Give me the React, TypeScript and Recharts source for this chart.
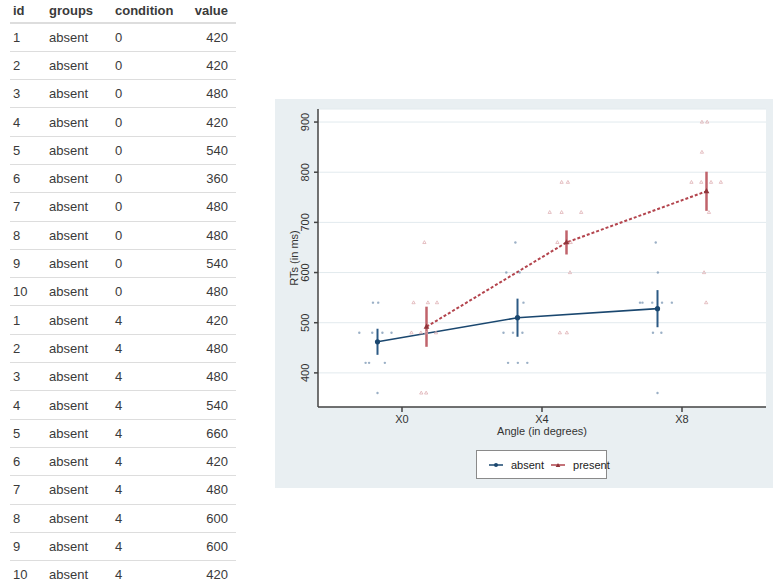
import {
  ComposedChart,
  Scatter,
  Line,
  XAxis,
  YAxis,
  CartesianGrid,
  ErrorBar,
  Legend,
  Label,
} from "recharts";

// table rows (first 20 rows of the long data set)
const tableIds = [1, 2, 3, 4, 5, 6, 7, 8, 9, 10, 1, 2, 3, 4, 5, 6, 7, 8, 9, 10];
const tableGroups = Array(20).fill("absent");
const tableConditions = [0, 0, 0, 0, 0, 0, 0, 0, 0, 0, 4, 4, 4, 4, 4, 4, 4, 4, 4, 4];

// raw RTs per group / condition
const absentCond0 = [420, 420, 480, 420, 540, 360, 480, 480, 540, 480];
const absentCond4 = [420, 480, 480, 540, 660, 420, 480, 600, 600, 420];
const absentCond8 = [660, 600, 540, 540, 540, 540, 540, 480, 480, 360];
const presentCond0 = [540, 540, 540, 480, 480, 480, 480, 360, 360, 660];
const presentCond4 = [780, 780, 720, 720, 720, 660, 660, 600, 480, 480];
const presentCond8 = [900, 900, 840, 780, 780, 780, 780, 720, 600, 540];

const tableValues = [...absentCond0, ...absentCond4];

// horizontal jitter of the raw points (in condition units)
const absentJitter0 = [-1.04, -0.94, -1.22, -0.49, -0.83, -0.7, -0.85, -0.56, -0.68, -0.3];
const absentJitter4 = [-0.97, -1.1, -0.83, -0.53, -0.76, -0.69, -0.56, -1.02, -0.64, -0.42];
const absentJitter8 = [-0.75, -0.69, -1.2, -1.13, -0.85, -0.57, -0.29, -0.83, -0.59, -0.7];
const presentJitter0 = [0.33, 0.74, 1.0, 0.27, 0.54, 0.69, 0.97, 0.55, 0.69, 0.64];
const presentJitter4 = [0.56, 0.74, 0.22, 0.56, 1.12, 0.44, 0.82, 0.8, 0.51, 0.71];
const presentJitter8 = [0.57, 0.72, 0.57, 0.27, 0.55, 0.83, 1.11, 0.77, 0.63, 0.69];

// summary
const conditions = [0, 4, 8];
const absentMeans = [462, 510, 528];
const presentMeans = [492, 660, 762];
const absentCI = [26, 38, 37];
const presentCI = [40, 24, 39];
const absentDodge = -0.7;
const presentDodge = 0.7;
const yTicks = [400, 500, 600, 700, 800, 900];

const BLUE = "#1a476f";
const RED = "#90353b";
const FONT = "'Liberation Sans', Arial, sans-serif";

const toPoints = (values: number[], jitter: number[], cond: number) =>
  values.map((v, i) => ({ x: cond + jitter[i], y: v }));

const absentPoints = [
  ...toPoints(absentCond0, absentJitter0, 0),
  ...toPoints(absentCond4, absentJitter4, 4),
  ...toPoints(absentCond8, absentJitter8, 8),
];
const presentPoints = [
  ...toPoints(presentCond0, presentJitter0, 0),
  ...toPoints(presentCond4, presentJitter4, 4),
  ...toPoints(presentCond8, presentJitter8, 8),
];

const absentMeanData = conditions.map((c, i) => ({
  x: c + absentDodge,
  y: absentMeans[i],
  ci: absentCI[i],
}));
const presentMeanData = conditions.map((c, i) => ({
  x: c + presentDodge,
  y: presentMeans[i],
  ci: presentCI[i],
}));

const tri = (cx: number, cy: number, s: number) =>
  `M${cx},${cy - s} L${cx + s * 0.9},${cy + s * 0.6} L${cx - s * 0.9},${cy + s * 0.6} Z`;

const AbsentRaw = (p: any) => (
  <circle cx={p.cx} cy={p.cy} r={1.2} fill="#7a95b3" fillOpacity={0.75} />
);
const PresentRaw = (p: any) => (
  <path d={tri(p.cx, p.cy, 1.8)} fill="none" stroke="#dba7ac" strokeWidth={0.7} />
);
const AbsentMean = (p: any) => (
  <circle key={p.index} cx={p.cx} cy={p.cy} r={2.6} fill={BLUE} />
);
const PresentMean = (p: any) => (
  <path key={p.index} d={tri(p.cx, p.cy, 3.2)} fill={RED} />
);

const YTick = ({ x, y, payload }: any) => (
  <text
    x={x - 4.5}
    y={y}
    transform={`rotate(-90 ${x - 4.5} ${y})`}
    textAnchor="middle"
    fontSize={11}
    fontFamily={FONT}
    fill="#333"
  >
    {payload.value}
  </text>
);

function LegendBox({ payload }: any) {
  const items = (payload || []).filter((e: any) => e.value === "absent" || e.value === "present");
  return (
    <div
      style={{
        width: 131,
        height: 29,
        boxSizing: "border-box",
        border: "1px solid #8a8a8a",
        background: "#fff",
        display: "flex",
        alignItems: "center",
        paddingLeft: 12,
        fontFamily: FONT,
        fontSize: 11,
        color: "#222",
      }}
    >
      {items.map((e: any) => (
        <div key={e.value} style={{ display: "flex", alignItems: "center", marginRight: 7 }}>
          <svg width={14} height={8} style={{ marginRight: 8 }}>
            <line x1={0} y1={4} x2={14} y2={4} stroke={e.value === "absent" ? BLUE : "#b0444d"} strokeWidth={1.5} />
            {e.value === "absent" ? (
              <circle cx={7} cy={4} r={2} fill={BLUE} />
            ) : (
              <path d={tri(7, 4.5, 2.6)} fill={RED} />
            )}
          </svg>
          <span>{e.value}</span>
        </div>
      ))}
    </div>
  );
}

export default function App() {
  return (
    <div
      style={{
        position: "absolute",
        left: 0,
        top: 0,
        width: 773,
        height: 587,
        overflow: "hidden",
        background: "#fff",
      }}
    >
      <table
        style={{
          position: "absolute",
          left: 10,
          top: 0,
          width: 226,
          borderCollapse: "collapse",
          tableLayout: "fixed",
          fontFamily: FONT,
          fontSize: 13,
          color: "#3a3a3a",
        }}
      >
        <colgroup>
          <col style={{ width: 36 }} />
          <col style={{ width: 66 }} />
          <col style={{ width: 70 }} />
          <col style={{ width: 54 }} />
        </colgroup>
        <thead>
          <tr style={{ height: 23 }}>
            <th style={{ textAlign: "left", padding: "0 0 2px 3px", borderBottom: "2px solid #ddd" }}>id</th>
            <th style={{ textAlign: "left", padding: "0 0 2px 3px", borderBottom: "2px solid #ddd" }}>groups</th>
            <th style={{ textAlign: "left", padding: "0 0 2px 3px", borderBottom: "2px solid #ddd" }}>condition</th>
            <th style={{ textAlign: "right", padding: "0 8px 2px 0", borderBottom: "2px solid #ddd" }}>value</th>
          </tr>
        </thead>
        <tbody>
          {tableIds.map((id, i) => (
            <tr key={i} style={{ height: 28.3 }}>
              <td style={{ padding: "0 0 0 3px", borderBottom: "1px solid #ddd" }}>{id}</td>
              <td style={{ padding: "0 0 0 3px", borderBottom: "1px solid #ddd" }}>{tableGroups[i]}</td>
              <td style={{ padding: "0 0 0 3px", borderBottom: "1px solid #ddd" }}>{tableConditions[i]}</td>
              <td style={{ padding: "0 8px 0 0", textAlign: "right", borderBottom: "1px solid #ddd" }}>
                {tableValues[i]}
              </td>
            </tr>
          ))}
        </tbody>
      </table>

      <div
        style={{
          position: "absolute",
          left: 275,
          top: 99,
          width: 498,
          height: 389,
          background: "#e9eff2",
        }}
      >
        <ComposedChart width={498} height={390} margin={{ top: 10, right: 7, left: 0, bottom: 10 }}>
          <CartesianGrid vertical={false} stroke="#e2eaee" fill="#ffffff" fillOpacity={1} />
          <XAxis
            type="number"
            dataKey="x"
            domain={[-2.4, 10.4]}
            ticks={conditions}
            allowDataOverflow
            height={43}
            tickSize={5}
            tickMargin={3}
            tickFormatter={(v: number) => `X${v}`}
            tick={{ fontSize: 11, fill: "#333", fontFamily: FONT }}
            stroke="#444"
            strokeWidth={1.5}
            label={{
              content: ({ viewBox }: any) => (
                <text
                  x={viewBox.x + viewBox.width / 2}
                  y={viewBox.y + 28}
                  textAnchor="middle"
                  fontSize={11}
                  fontFamily={FONT}
                  fill="#333"
                >
                  Angle (in degrees)
                </text>
              ),
            }}
          />
          <YAxis
            type="number"
            dataKey="y"
            domain={[332, 926]}
            ticks={yTicks}
            allowDataOverflow
            width={43}
            tickSize={4}
            tickMargin={0}
            tick={<YTick />}
            stroke="#444"
            strokeWidth={1.5}
          >
            <Label
              content={({ viewBox }: any) => (
                <text
                  x={viewBox.x + 22.5}
                  y={viewBox.y + viewBox.height / 2}
                  transform={`rotate(-90 ${viewBox.x + 22.5} ${viewBox.y + viewBox.height / 2})`}
                  textAnchor="middle"
                  fontSize={11}
                  fontFamily={FONT}
                  fill="#333"
                >
                  RTs (in ms)
                </text>
              )}
            />
          </YAxis>
          <Scatter
            name="absent raw"
            data={absentPoints}
            shape={AbsentRaw}
            legendType="none"
            isAnimationActive={false}
          />
          <Scatter
            name="present raw"
            data={presentPoints}
            shape={PresentRaw}
            legendType="none"
            isAnimationActive={false}
          />
          <Line
            name="absent"
            data={absentMeanData}
            dataKey="y"
            type="linear"
            stroke={BLUE}
            strokeWidth={1.6}
            dot={AbsentMean}
            activeDot={false}
            isAnimationActive={false}
          >
            <ErrorBar dataKey="ci" direction="y" width={0} stroke="#2c5a85" strokeWidth={2} />
          </Line>
          <Line
            name="present"
            data={presentMeanData}
            dataKey="y"
            type="linear"
            stroke="#b3444d"
            strokeWidth={2}
            strokeDasharray="3 2"
            dot={PresentMean}
            activeDot={false}
            isAnimationActive={false}
          >
            <ErrorBar dataKey="ci" direction="y" width={0} stroke="#c0636b" strokeWidth={2.5} />
          </Line>
          <Legend
            verticalAlign="bottom"
            content={<LegendBox />}
            wrapperStyle={{ left: 201, width: 131 }}
          />
        </ComposedChart>
      </div>
    </div>
  );
}
